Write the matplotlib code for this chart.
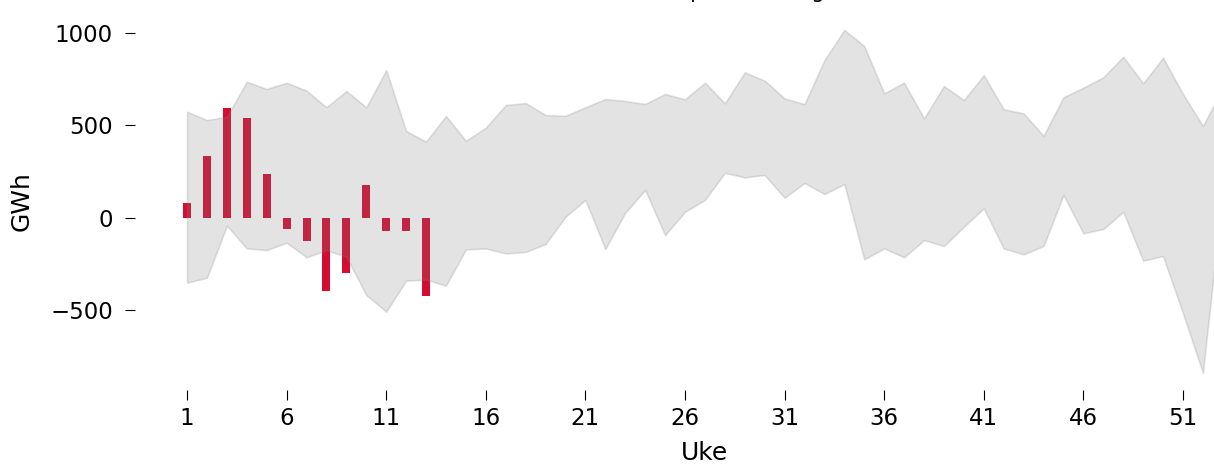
import matplotlib
matplotlib.use("Agg")
import matplotlib.pyplot as plt
import numpy as np

# uker og verdier (GWh)
uker = list(range(1, 54))
ovre = [573, 528, 546, 735, 696, 730, 687, 597, 685, 597,
        798, 469, 411, 550, 416, 487, 609, 620, 555, 551,
        597, 642, 631, 615, 669, 640, 730, 618, 786, 741,
        645, 614, 852, 1015, 928, 672, 730, 537, 712, 636,
        771, 586, 564, 443, 651, 703, 759, 870, 726, 865,
        669, 496, 700]
nedre = [-351, -324, -43, -166, -175, -135, -214, -175, -211, -418,
         -508, -340, -335, -367, -171, -166, -193, -185, -142, 5,
         96, -169, 27, 150, -94, 32, 96, 243, 218, 231,
         108, 188, 128, 182, -225, -166, -214, -121, -153, -49,
         51, -166, -198, -153, 123, -84, -61, 32, -232, -207,
         -517, -838, 140]

uker_i_aar = list(range(1, 14))
verdier_i_aar = [81, 332, 593, 541, 238, -61, -124, -395, -301, 177,
                 -72, -72, -425]

fig = plt.figure(figsize=(12.14, 4.66), dpi=100)
ax = fig.add_axes([0.1114, 0.1633, 0.9385, 0.8092])

ax.bar(uker_i_aar, verdier_i_aar, width=0.4, color="#d40c30", zorder=1)
ax.fill_between(uker, nedre, ovre, color="gray", alpha=0.22, linewidth=1.2, zorder=2)

ax.set_xlim(-1.6, 55.6)
ax.set_xticks(np.arange(1, 54, 5))
ax.set_yticks([-500, 0, 500, 1000])
for s in ax.spines.values():
    s.set_visible(False)
ax.tick_params(labelsize=16.5, length=7, width=0.8)
ax.tick_params(axis="x", pad=5)
ax.tick_params(axis="y", pad=9)
ax.set_xlabel("Uke", fontsize=18, labelpad=8)
ax.set_ylabel("GWh", fontsize=18, labelpad=12)
ax.set_title("Nettoeksport fra Norge", fontsize=15, pad=10.5, x=0.5105)

fig.savefig("out.png", dpi=100)
